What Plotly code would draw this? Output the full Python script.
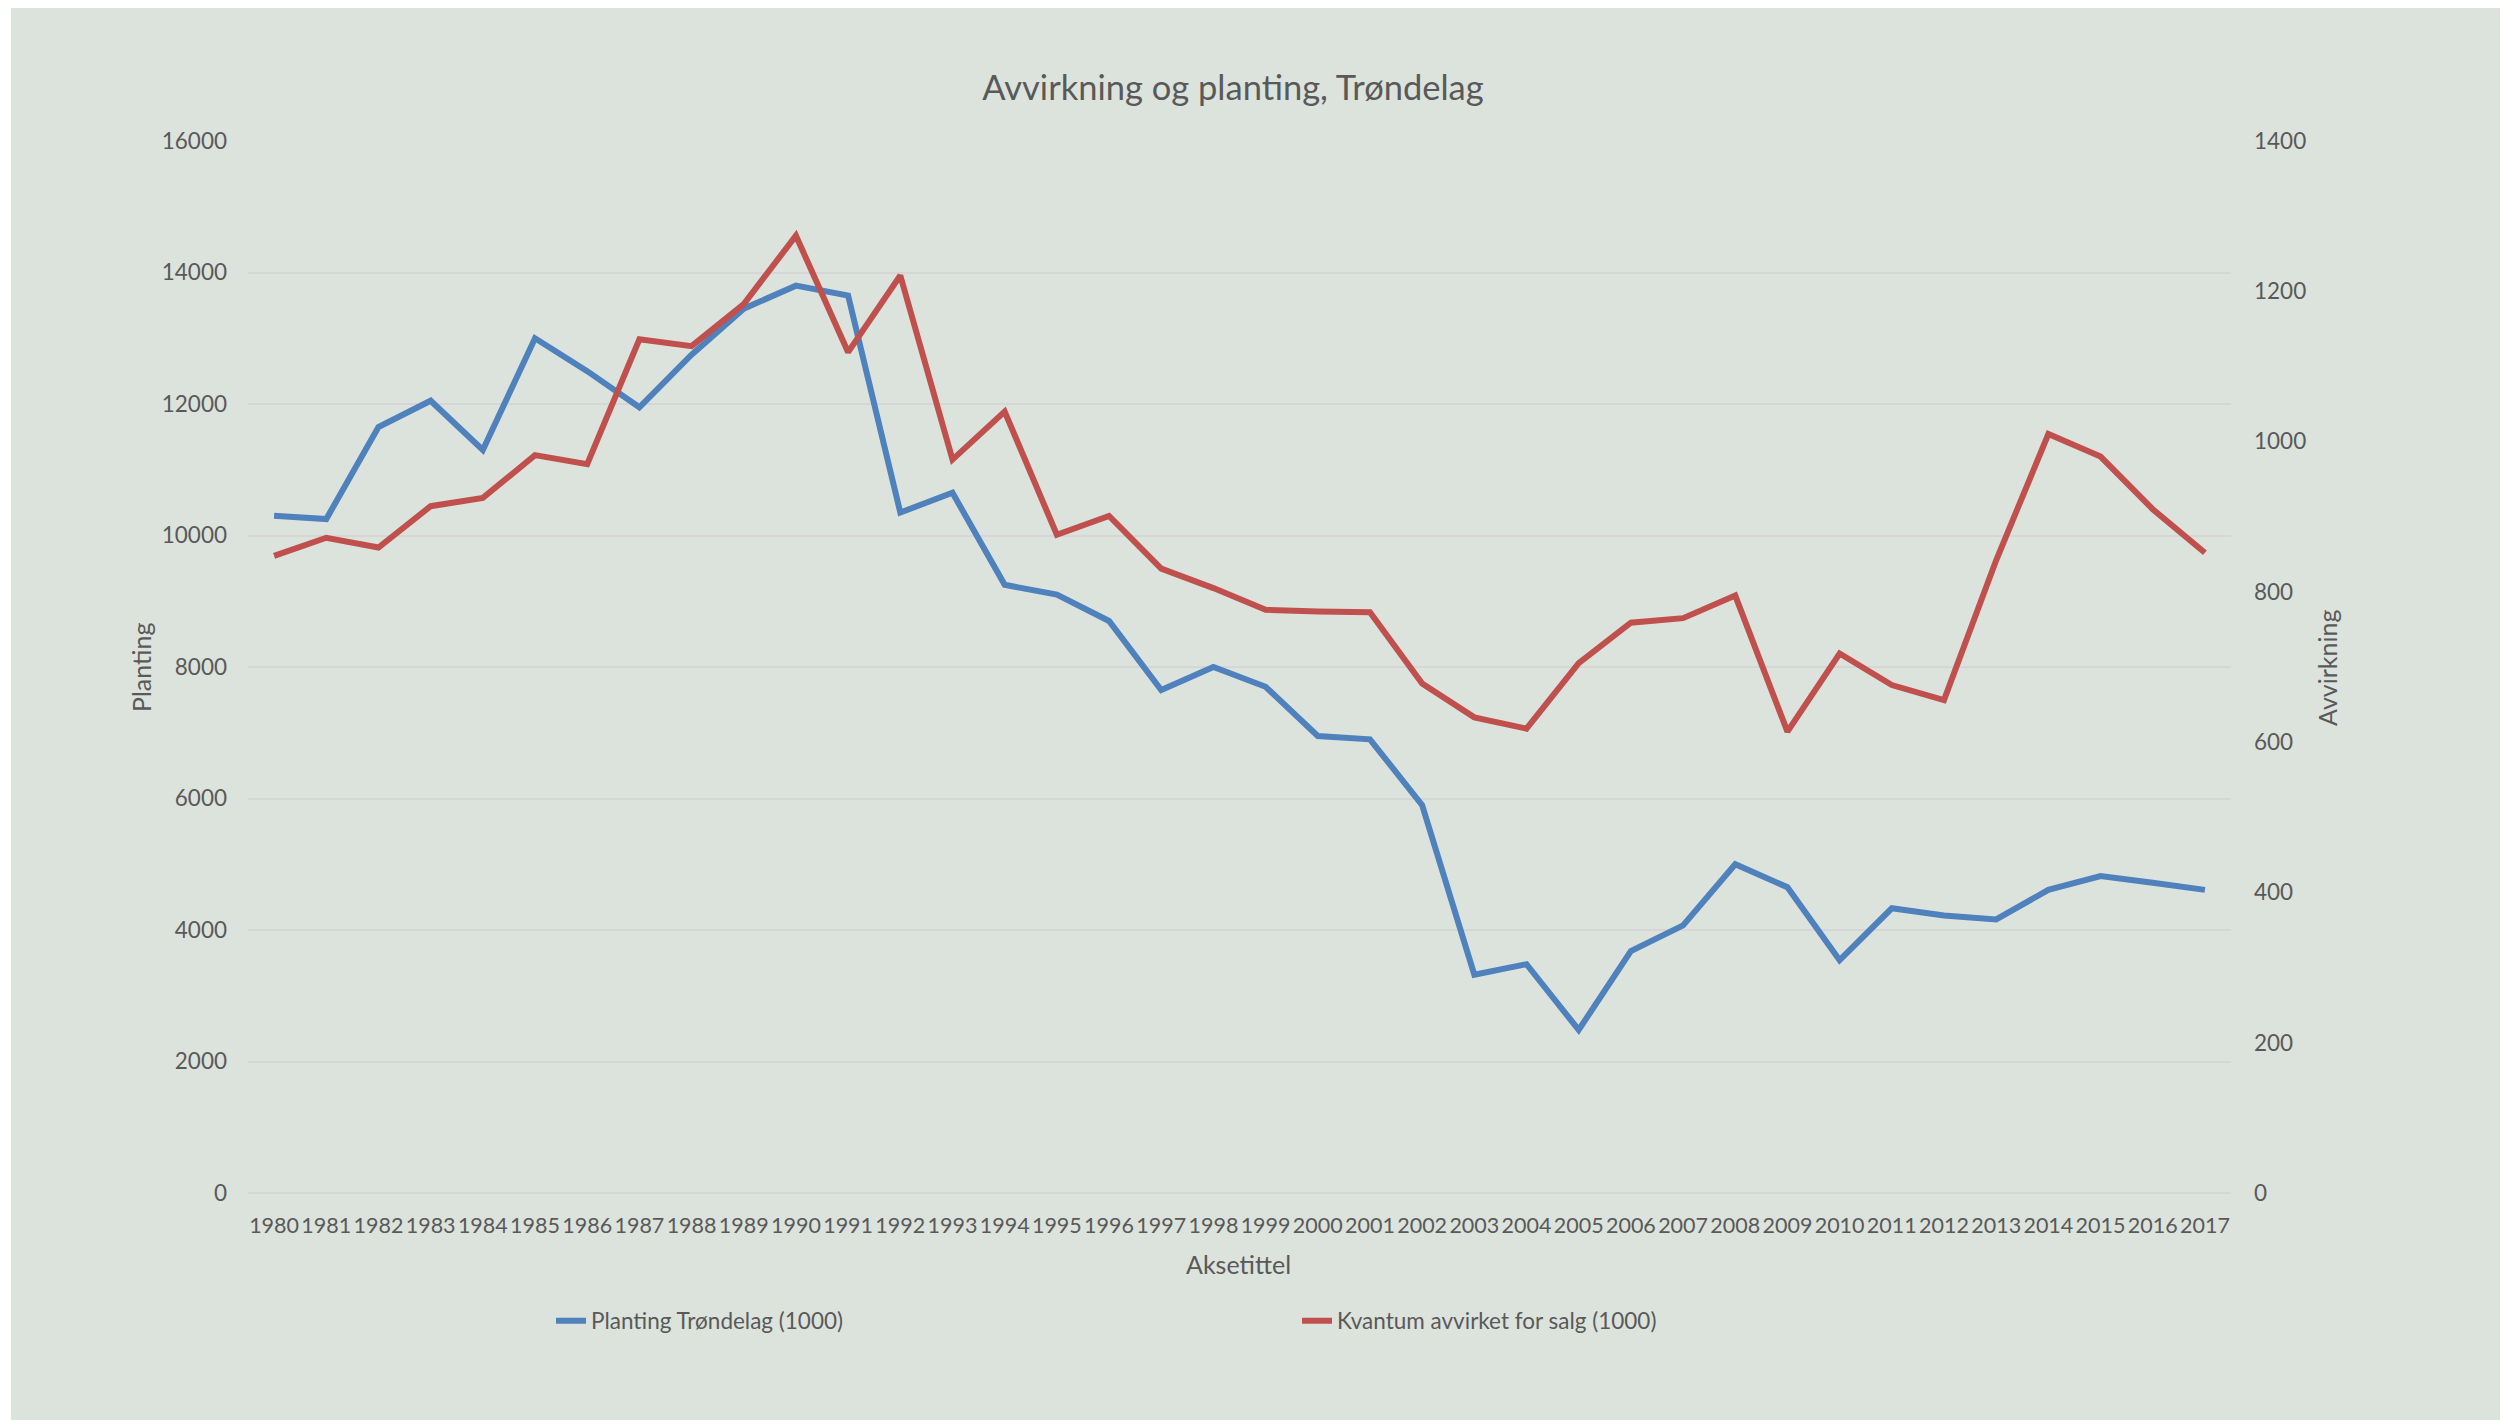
import plotly.graph_objects as go

years = [str(y) for y in range(1980, 2018)]

planting = [10300, 10250, 11650, 12050, 11300, 13000, 12500, 11950, 12750, 13450,
            13800, 13650, 10350, 10650, 9250, 9100, 8700, 7650, 8000, 7700,
            6950, 6900, 5900, 3320, 3480, 2480, 3680, 4070, 5000, 4650,
            3540, 4330, 4220, 4160, 4610, 4820, 4720, 4610]

avvirkning = [848, 872, 859, 914, 925, 982, 970, 1136, 1127, 1183,
              1274, 1119, 1221, 976, 1040, 876, 901, 831, 805, 776,
              774, 773, 678, 633, 618, 705, 759, 765, 795, 614,
              718, 676, 656, 842, 1010, 980, 910, 852]

left_ticks = list(range(0, 16001, 2000))
right_ticks = list(range(0, 1401, 200))

W, H = 2511, 1420
OFF = 8  # page body margin offset
L, R, T, B = 248 - OFF, 2231 - OFF, 141 - OFF, 1193 - OFF
pw, ph = R - L, B - T

BG = "#DCE3DC"
TXT = "#595959"
FONT = "Lato"

def px(x):
    return (x - OFF - L) / pw

def py(y):
    return (B - (y - OFF)) / ph

fig = go.Figure()
fig.add_trace(go.Scatter(x=years, y=planting, mode="lines", name="Planting Trøndelag (1000)",
                         line=dict(color="#4F81BD", width=6), yaxis="y"))
fig.add_trace(go.Scatter(x=years, y=avvirkning, mode="lines", name="Kvantum avvirket for salg (1000)",
                         line=dict(color="#C0504D", width=6), yaxis="y2"))

fig.update_layout(
    width=W, height=H,
    margin=dict(l=L, r=W - R, t=T, b=H - B, autoexpand=False),
    paper_bgcolor="white",
    plot_bgcolor="rgba(0,0,0,0)",
    font=dict(family=FONT, color=TXT, size=22.5),
    showlegend=True,
    xaxis=dict(type="category", range=[-0.5, len(years) - 0.5], showgrid=False,
               zeroline=False, showline=False, ticks="", tickangle=0,
               tickfont=dict(size=21.5, color=TXT), ticklabelstandoff=17,
               fixedrange=True),
    yaxis=dict(range=[0, 16000], tickvals=left_ticks, tickformat="d", showgrid=True,
               gridcolor="#D6D6D6", gridwidth=2, zeroline=True, zerolinecolor="#D6D6D6",
               zerolinewidth=2, showline=False, ticks="", tickfont=dict(size=22.5, color=TXT),
               ticklabelstandoff=20),
    yaxis2=dict(range=[0, 1400], tickvals=right_ticks, tickformat="d", overlaying="y",
                side="right", showgrid=False, zeroline=False, showline=False, ticks="",
                tickfont=dict(size=22.5, color=TXT), ticklabelstandoff=22),
    legend=dict(orientation="h", x=px(551), y=py(1321), xanchor="left", yanchor="middle",
                bgcolor="rgba(0,0,0,0)", font=dict(size=22.5, color=TXT),
                entrywidth=701, entrywidthmode="pixels"),
    title=dict(text="Avvirkning og planting, Trøndelag", x=(1233 - OFF) / W, xanchor="center",
               y=1 - (88 - OFF) / H, yanchor="middle", yref="container",
               font=dict(size=34.5, color=TXT, family=FONT)),
)

fig.add_shape(type="rect", xref="paper", yref="paper", layer="below",
              x0=px(11), x1=px(2500), y0=py(1430), y1=py(5),
              fillcolor=BG, line=dict(width=0))

fig.add_annotation(text="Planting", xref="paper", yref="paper", x=px(141), y=py(668),
                   textangle=-90, showarrow=False, xanchor="center", yanchor="middle",
                   font=dict(size=25, color=TXT))
fig.add_annotation(text="Avvirkning", xref="paper", yref="paper", x=px(2327), y=py(668),
                   textangle=-90, showarrow=False, xanchor="center", yanchor="middle",
                   font=dict(size=25, color=TXT))
fig.add_annotation(text="Aksetittel", xref="paper", yref="paper", x=px(1238), y=py(1264),
                   showarrow=False, xanchor="center", yanchor="middle",
                   font=dict(size=25, color=TXT))

fig.write_html("out.html")
